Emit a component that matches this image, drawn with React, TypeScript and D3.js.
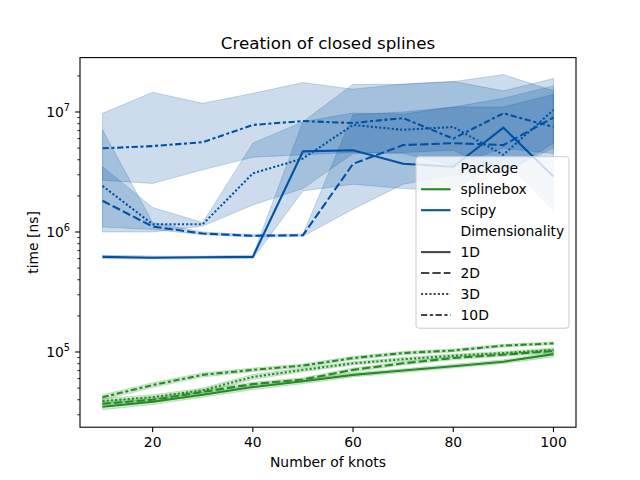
import React from "react";
import * as d3 from "d3";

// knots on the x axis
const knots = [10, 20, 30, 40, 50, 60, 70, 80, 90, 100];
const xTicks = [20, 40, 60, 80, 100];
const yMajor = [1e5, 1e6, 1e7];

// splinebox timings (ns), mean and ci
const sb1D = [3.5e4, 3.85e4, 4.4e4, 5.1e4, 5.7e4, 6.45e4, 7.0e4, 7.6e4, 8.3e4, 9.6e4];
const sb1DLo = [3.3e4, 3.65e4, 4.2e4, 4.85e4, 5.45e4, 6.2e4, 6.75e4, 7.35e4, 8.0e4, 9.1e4];
const sb1DHi = [3.75e4, 4.05e4, 4.6e4, 5.35e4, 5.95e4, 6.7e4, 7.25e4, 7.9e4, 8.6e4, 1.0e5];
const sb2D = [3.7e4, 4.0e4, 4.65e4, 5.4e4, 5.9e4, 7.1e4, 8.05e4, 8.9e4, 9.5e4, 1.02e5];
const sb2DLo = [3.5e4, 3.8e4, 4.45e4, 5.2e4, 5.7e4, 6.85e4, 7.8e4, 8.6e4, 9.2e4, 9.8e4];
const sb2DHi = [3.9e4, 4.2e4, 4.85e4, 5.6e4, 6.1e4, 7.35e4, 8.3e4, 9.2e4, 9.8e4, 1.06e5];
const sb3D = [3.9e4, 4.2e4, 4.8e4, 6.2e4, 7.1e4, 8.05e4, 8.7e4, 9.3e4, 9.8e4, 1.04e5];
const sb3DLo = [3.7e4, 4.0e4, 4.6e4, 5.9e4, 6.85e4, 7.8e4, 8.4e4, 9.0e4, 9.5e4, 1.0e5];
const sb3DHi = [4.1e4, 4.4e4, 5.0e4, 6.5e4, 7.35e4, 8.3e4, 9.0e4, 9.6e4, 1.01e5, 1.08e5];
const sb10D = [4.2e4, 5.3e4, 6.45e4, 7.1e4, 7.7e4, 8.9e4, 9.8e4, 1.03e5, 1.13e5, 1.18e5];
const sb10DLo = [4.0e4, 5.05e4, 6.2e4, 6.85e4, 7.45e4, 8.6e4, 9.5e4, 1.0e5, 1.1e5, 1.15e5];
const sb10DHi = [4.4e4, 5.55e4, 6.7e4, 7.35e4, 7.95e4, 9.2e4, 1.01e5, 1.06e5, 1.16e5, 1.21e5];

// scipy timings (ns)
const sp1D = [6.2e5, 6.1e5, 6.15e5, 6.2e5, 4.7e6, 4.8e6, 3.7e6, 3.5e6, 7.4e6, 2.9e6];
const sp1DLo = [6.0e5, 5.95e5, 6.0e5, 6.0e5, 2.2e6, 2.5e6, 2.3e6, 2.2e6, 4.0e6, 1.5e6];
const sp1DHi = [6.4e5, 6.3e5, 6.3e5, 6.4e5, 8.3e6, 9.8e6, 9.6e6, 1.1e7, 1.3e7, 1.65e7];
const sp2D = [1.82e6, 1.11e6, 9.7e5, 9.3e5, 9.4e5, 3.7e6, 5.3e6, 5.5e6, 5.3e6, 9.0e6];
const sp2DLo = [1.1e6, 1.05e6, 9.5e5, 9.1e5, 9.2e5, 1.55e6, 2.5e6, 3.0e6, 3.2e6, 5.0e6];
const sp2DHi = [7.1e6, 1.2e6, 1.0e6, 9.5e5, 9.6e5, 9.5e6, 1.0e7, 1.1e7, 1.1e7, 1.4e7];
const sp3D = [2.42e6, 1.16e6, 1.16e6, 3.08e6, 4.1e6, 7.8e6, 7.1e6, 7.5e6, 4.4e6, 1.04e7];
const sp3DLo = [1.0e6, 1.0e6, 1.12e6, 1.68e6, 2.3e6, 4.5e6, 4.6e6, 4.8e6, 3.0e6, 5.5e6];
const sp3DHi = [3.5e6, 1.6e6, 1.2e6, 5.5e6, 8.3e6, 1.7e7, 1.7e7, 1.8e7, 1.5e7, 1.9e7];
const sp10D = [4.98e6, 5.2e6, 5.6e6, 7.8e6, 8.4e6, 8.1e6, 8.9e6, 6.0e6, 9.75e6, 7.5e6];
const sp10DLo = [2.7e6, 2.54e6, 3.3e6, 4.2e6, 4.4e6, 4.6e6, 4.5e6, 3.6e6, 5.0e6, 4.5e6];
const sp10DHi = [9.75e6, 1.46e7, 1.18e7, 1.43e7, 1.76e7, 1.55e7, 1.71e7, 1.79e7, 2.05e7, 1.5e7];

const GREEN = "#228b22";
const BLUE = "#0051a2";
const DIM_DASH = ["", "8.3,3.1", "2.1,2.1", "6.25,2.6,3.1,2.6"];

const series = [
  { color: GREEN, dim: 0, mean: sb1D, lo: sb1DLo, hi: sb1DHi },
  { color: GREEN, dim: 1, mean: sb2D, lo: sb2DLo, hi: sb2DHi },
  { color: GREEN, dim: 2, mean: sb3D, lo: sb3DLo, hi: sb3DHi },
  { color: GREEN, dim: 3, mean: sb10D, lo: sb10DLo, hi: sb10DHi },
  { color: BLUE, dim: 0, mean: sp1D, lo: sp1DLo, hi: sp1DHi },
  { color: BLUE, dim: 1, mean: sp2D, lo: sp2DLo, hi: sp2DHi },
  { color: BLUE, dim: 2, mean: sp3D, lo: sp3DLo, hi: sp3DHi },
  { color: BLUE, dim: 3, mean: sp10D, lo: sp10DLo, hi: sp10DHi },
];

const legendRows = [
  { label: "Package" },
  { label: "splinebox", color: GREEN, dash: "" },
  { label: "scipy", color: BLUE, dash: "" },
  { label: "Dimensionality" },
  { label: "1D", color: "#444", dash: DIM_DASH[0] },
  { label: "2D", color: "#444", dash: DIM_DASH[1] },
  { label: "3D", color: "#444", dash: DIM_DASH[2] },
  { label: "10D", color: "#444", dash: DIM_DASH[3] },
];

const W = 640;
const H = 480;
const left = 80, right = 576, top = 57.6, bottom = 427.2;

export default function App() {
  const x = d3.scaleLinear().domain([5.5, 104.5]).range([left, right]);
  const y = d3.scaleLog().domain([10 ** 4.3733, 10 ** 7.4533]).range([bottom, top]);

  const lineGen = d3
    .line<number>()
    .x((_, i) => x(knots[i]))
    .y((d) => y(d));

  const minor: number[] = [];
  [1e4, 1e5, 1e6, 1e7].forEach((dec) => {
    for (let k = 2; k < 10; k++) {
      const v = dec * k;
      if (y(v) >= top && y(v) <= bottom) minor.push(v);
    }
  });

  const font = "DejaVu Sans, sans-serif";

  return (
    <svg width={W} height={H} style={{ display: "block", margin: -8 }} fontFamily={font}>
      <rect width={W} height={H} fill="white" />
      <text x={(left + right) / 2} y={49} textAnchor="middle" fontSize={16.7}>
        Creation of closed splines
      </text>
      <defs>
        <clipPath id="plotArea">
          <rect x={left} y={top} width={right - left} height={bottom - top} />
        </clipPath>
      </defs>
      <g clipPath="url(#plotArea)">
        {series.map((s, i) => {
          const areaGen = d3
            .area<number>()
            .x((_, j) => x(knots[j]))
            .y0((_, j) => y(s.lo[j]))
            .y1((_, j) => y(s.hi[j]));
          return (
            <path
              key={"band" + i}
              d={areaGen(s.mean) || ""}
              fill={s.color}
              fillOpacity={0.2}
              stroke={s.color}
              strokeOpacity={0.2}
              strokeWidth={1}
            />
          );
        })}
        {series.map((s, i) => (
          <path
            key={"line" + i}
            d={lineGen(s.mean) || ""}
            fill="none"
            stroke={s.color}
            strokeWidth={2.08}
            strokeDasharray={DIM_DASH[s.dim] || undefined}
          />
        ))}
      </g>

      {/* axes frame */}
      <rect x={left} y={top} width={right - left} height={bottom - top} fill="none" stroke="black" strokeWidth={1.1} />

      {/* x ticks */}
      {xTicks.map((t) => (
        <g key={"xt" + t} transform={`translate(${x(t)},${bottom})`}>
          <line y2={4.86} stroke="black" strokeWidth={1.1} />
          <text y={20} textAnchor="middle" fontSize={13.9}>
            {t}
          </text>
        </g>
      ))}
      <text x={(left + right) / 2} y={467} textAnchor="middle" fontSize={13.9}>
        Number of knots
      </text>

      {/* y ticks */}
      {minor.map((v, i) => (
        <line key={"ym" + i} x1={left} x2={left - 2.78} y1={y(v)} y2={y(v)} stroke="black" strokeWidth={0.8} />
      ))}
      {yMajor.map((v) => (
        <g key={"yt" + v} transform={`translate(${left},${y(v)})`}>
          <line x2={-4.86} stroke="black" strokeWidth={1.1} />
          <text x={-10} y={5} textAnchor="end" fontSize={13.9}>
            10
            <tspan fontSize={9.7} dy={-6}>
              {Math.round(Math.log10(v))}
            </tspan>
          </text>
        </g>
      ))}
      <text
        transform={`translate(38,${(top + bottom) / 2}) rotate(-90)`}
        textAnchor="middle"
        fontSize={13.9}
      >
        time [ns]
      </text>

      {/* legend */}
      <g>
        <rect x={416} y={156.7} width={153} height={171.5} rx={3} fill="white" fillOpacity={0.8} stroke="#cccccc" strokeWidth={1} />
        {legendRows.map((r, i) => {
          const cy = 168.3 + i * 20.95;
          return (
            <g key={"lg" + i}>
              {r.color && (
                <line
                  x1={421}
                  x2={450.5}
                  y1={cy}
                  y2={cy}
                  stroke={r.color}
                  strokeWidth={2.08}
                  strokeDasharray={r.dash || undefined}
                />
              )}
              <text x={460.5} y={cy + 5} fontSize={13.9}>
                {r.label}
              </text>
            </g>
          );
        })}
      </g>
    </svg>
  );
}
